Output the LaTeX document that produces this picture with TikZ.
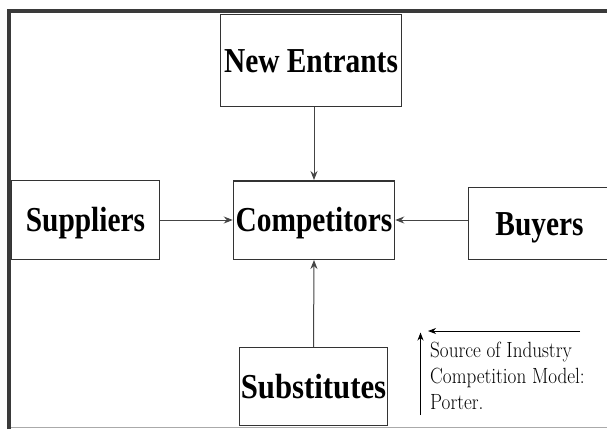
\documentclass[tikz,border=0pt]{standalone}
\usepackage{fontspec}
% heavy serif for the box titles; the note stays in the default serif
\newfontfamily\titlefont{Liberation Serif Bold}
\usetikzlibrary{arrows.meta}
\definecolor{framegray}{HTML}{3A3A3A}
\definecolor{edgegray}{HTML}{333333}
\definecolor{linegray}{HTML}{444444}
\definecolor{rulegray}{HTML}{AAAAAA}
% horizontally condensed lettering
\newcommand\narrowtext[2]{\scalebox{#1}[1]{#2}}
\tikzset{
  force/.style={draw=edgegray, line width=1pt, inner sep=0pt,
    font=\titlefont\fontsize{35}{40}\selectfont,
    text height=23pt, text depth=0pt, align=center},
  centerbox/.style={force, line width=1.5pt},
  flow/.style={draw=linegray, line width=1pt,
    -{Stealth[length=9pt,width=7pt,inset=3pt]}},
  noteflow/.style={draw=black, line width=0.9pt,
    -{Stealth[length=8pt,width=6pt,inset=2.5pt]}},
  note/.style={font=\fontsize{22}{26}\selectfont, inner sep=0pt}
}
\begin{document}
\begin{tikzpicture}[x=1pt,y=-1pt]
  \useasboundingbox (0,0) rectangle (607,429);
  \fill[white] (0,0) rectangle (607,429);

  % outer frame: heavy rule on top and left, light rule at the bottom
  \draw[rulegray, line width=1.2pt] (11,427.5) -- (607,427.5);
  \draw[framegray, line width=4pt, line join=miter] (9,429) -- (9,11) -- (607,11);

  % the five forces
  \node[force, minimum width=181pt, minimum height=91.5pt] (entrants)
    at (311,60.5) {\narrowtext{0.84}{New Entrants}};
  \node[centerbox, minimum width=161pt, minimum height=78.5pt] (competitors)
    at (314,220) {\narrowtext{0.84}{Competitors}};
  \node[force, minimum width=147.5pt, minimum height=78.5pt] (suppliers)
    at (85.5,220) {\narrowtext{0.84}{Suppliers}};
  \node[force, minimum width=143pt, minimum height=72pt, anchor=west] (buyers)
    at (467.5,223.5) {\narrowtext{0.84}{Buyers}};
  \node[force, minimum width=148.5pt, minimum height=78pt] (substitutes)
    at (313.5,386.5) {\narrowtext{0.88}{Substitutes}};

  % pressures on the industry rivals
  \draw[flow] (competitors.north |- entrants.south) -- (competitors.north);
  \draw[flow] (suppliers.east) -- (competitors.west);
  \draw[flow] (buyers.west |- competitors.east) -- (competitors.east);
  \draw[flow] (substitutes.north) -- (competitors.south);

  % source note with its two pointers
  \node[note, anchor=north west] (source) at (430,339)
    {\narrowtext{0.87}{\begin{tabular}{@{}l@{}}Source of Industry\\
      Competition Model:\\Porter.\end{tabular}}};
  \coordinate (vbase) at (420.5,415);
  \coordinate (vtip) at (420.5,332.5);
  \coordinate (hbase) at (580,331);
  \coordinate (htip) at (428,331);
  \draw[noteflow] (vbase) -- (vtip);
  \draw[noteflow] (hbase) -- (htip);
\end{tikzpicture}
\end{document}
